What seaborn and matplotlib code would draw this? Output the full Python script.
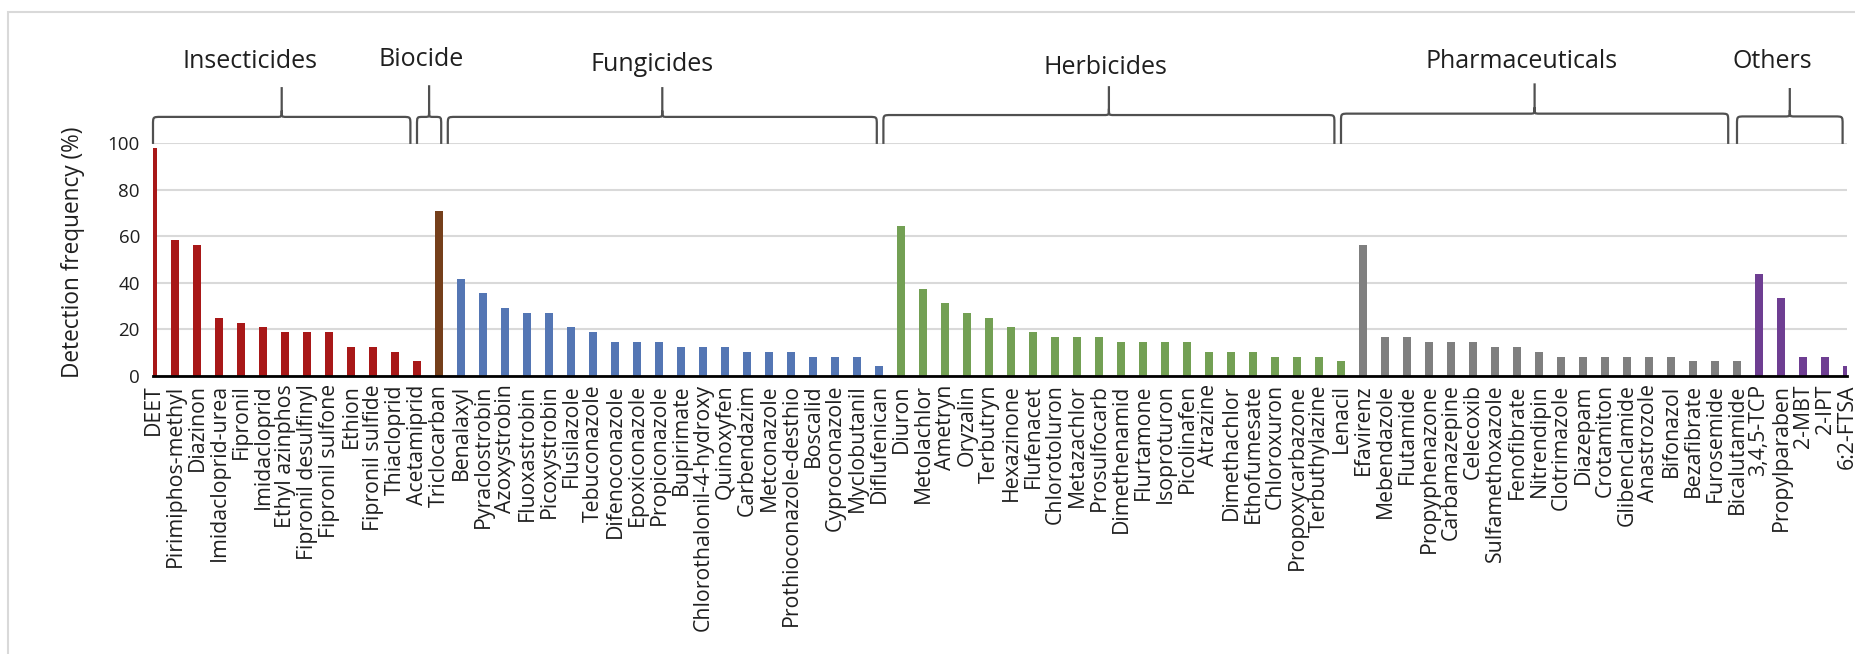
import matplotlib
matplotlib.use("Agg")
import matplotlib.pyplot as plt
from matplotlib.path import Path
from matplotlib.patches import PathPatch, Rectangle
import pandas as pd
import seaborn as sns

# ---- data -------------------------------------------------------------
insecticides = ["DEET", "Pirimiphos-methyl", "Diazinon", "Imidacloprid-urea", "Fipronil",
                "Imidacloprid", "Ethyl azinphos", "Fipronil desulfinyl", "Fipronil sulfone",
                "Ethion", "Fipronil sulfide", "Thiacloprid", "Acetamiprid"]
insecticides_freq = [97.92, 58.33, 56.25, 25.0, 22.92, 20.83, 18.75, 18.75, 18.75,
                     12.5, 12.5, 10.42, 6.25]

biocide = ["Triclocarban"]
biocide_freq = [70.83]

fungicides = ["Benalaxyl", "Pyraclostrobin", "Azoxystrobin", "Fluoxastrobin", "Picoxystrobin",
              "Flusilazole", "Tebuconazole", "Difenoconazole", "Epoxiconazole", "Propiconazole",
              "Bupirimate", "Chlorothalonil-4-hydroxy", "Quinoxyfen", "Carbendazim",
              "Metconazole", "Prothioconazole-desthio", "Boscalid", "Cyproconazole",
              "Myclobutanil", "Diflufenican"]
fungicides_freq = [41.67, 35.42, 29.17, 27.08, 27.08, 20.83, 18.75, 14.58, 14.58, 14.58,
                   12.5, 12.5, 12.5, 10.42, 10.42, 10.42, 8.33, 8.33, 8.33, 4.17]

herbicides = ["Diuron", "Metolachlor", "Ametryn", "Oryzalin", "Terbutryn", "Hexazinone",
              "Flufenacet", "Chlorotoluron", "Metazachlor", "Prosulfocarb", "Dimethenamid",
              "Flurtamone", "Isoproturon", "Picolinafen", "Atrazine", "Dimethachlor",
              "Ethofumesate", "Chloroxuron", "Propoxycarbazone", "Terbuthylazine", "Lenacil"]
herbicides_freq = [64.58, 37.5, 31.25, 27.08, 25.0, 20.83, 18.75, 16.67, 16.67, 16.67,
                   14.58, 14.58, 14.58, 14.58, 10.42, 10.42, 10.42, 8.33, 8.33, 8.33, 6.25]

pharmaceuticals = ["Efavirenz", "Mebendazole", "Flutamide", "Propyphenazone", "Carbamazepine",
                   "Celecoxib", "Sulfamethoxazole", "Fenofibrate", "Nitrendipin", "Clotrimazole",
                   "Diazepam", "Crotamiton", "Glibenclamide", "Anastrozole", "Bifonazol",
                   "Bezafibrate", "Furosemide", "Bicalutamide"]
pharmaceuticals_freq = [56.25, 16.67, 16.67, 14.58, 14.58, 14.58, 12.5, 12.5, 10.42, 8.33,
                        8.33, 8.33, 8.33, 8.33, 8.33, 6.25, 6.25, 6.25]

others = ["3,4,5-TCP", "Propylparaben", "2-MBT", "2-IPT", "6:2-FTSA"]
others_freq = [43.75, 33.33, 8.33, 8.33, 4.17]

group_names = ["Insecticides", "Biocide", "Fungicides", "Herbicides", "Pharmaceuticals", "Others"]
group_members = [insecticides, biocide, fungicides, herbicides, pharmaceuticals, others]
group_values = [insecticides_freq, biocide_freq, fungicides_freq, herbicides_freq,
                pharmaceuticals_freq, others_freq]

# ---- styling ----------------------------------------------------------
group_colors = {"Insecticides": "#C00000", "Biocide": "#843C0C", "Fungicides": "#4472C4",
                "Herbicides": "#70AD47", "Pharmaceuticals": "#7F7F7F", "Others": "#7030A0"}

# bracket spans (x in bar-index units) and label anchor for each group
bracket_layout = {
    "Insecticides":    dict(x0=0.0,  x1=11.7, label_x=4.4,  label_y=135.0, yh=111.2, yt=124.0),
    "Biocide":         dict(x0=12.0, x1=13.1, label_x=12.2, label_y=135.8, yh=111.2, yt=124.8),
    "Fungicides":      dict(x0=13.4, x1=32.9, label_x=22.7, label_y=133.6, yh=111.2, yt=124.0),
    "Herbicides":      dict(x0=33.2, x1=53.7, label_x=43.3, label_y=132.5, yh=112.0, yt=124.4),
    "Pharmaceuticals": dict(x0=54.0, x1=71.6, label_x=62.2, label_y=135.0, yh=112.6, yt=125.6),
    "Others":          dict(x0=72.0, x1=76.8, label_x=73.6, label_y=135.0, yh=111.4, yt=123.6),
}

sns.set_style("white")
plt.rcParams["font.family"] = ["Open Sans", "DejaVu Sans"]
text_color = "#1f1f1f"

rows = []
for g, names, vals in zip(group_names, group_members, group_values):
    for n, v in zip(names, vals):
        rows.append({"compound": n, "freq": v, "group": g})
df = pd.DataFrame(rows)
order = list(df["compound"])

W, H = 1856, 654
fig = plt.figure(figsize=(W / 100, H / 100), dpi=100)
ax = fig.add_axes([153 / W, 1 - 376 / H, (1847 - 153) / W, (376 - 143) / H])

sns.barplot(data=df, x="compound", y="freq", hue="group", order=order,
            hue_order=group_names, palette=group_colors, dodge=False, width=0.33,
            linewidth=0, legend=False, ax=ax)

ax.set_xlim(0, len(order) - 1)
ax.set_ylim(0, 100)
ax.set_yticks(range(0, 101, 20))
ax.yaxis.grid(True, color="#D9D9D9", linewidth=1.5)
ax.xaxis.grid(False)
ax.set_axisbelow(True)
for side in ("left", "right", "top"):
    ax.spines[side].set_visible(False)
ax.spines["bottom"].set_color("black")
ax.spines["bottom"].set_linewidth(2)
ax.spines["bottom"].set_zorder(5)

ax.tick_params(axis="y", length=0, pad=9.4, labelsize=13.5, labelcolor=text_color)
ax.tick_params(axis="x", length=0, pad=6, labelsize=15.3, labelcolor=text_color)
plt.setp(ax.get_xticklabels(), rotation=90, ha="center", va="top")
ax.set_xlabel("")
ax.set_ylabel("Detection frequency (%)", fontsize=16.3, color=text_color)
ax.yaxis.set_label_coords(-0.040, 0.53)

# curly brackets above each group
yb = 99.6
rx, ry = 0.36, 3.4
for g in group_names:
    b = bracket_layout[g]
    x0, x1 = b["x0"], b["x1"]
    yh, yt = b["yh"], b["yt"]
    xm = (x0 + x1) / 2
    rxe = min(rx, (x1 - x0) / 4)
    rxm = min(0.22, (x1 - x0) / 6)
    verts = [
        (x0, yb), (x0, yh - ry),
        (x0, yh), (x0, yh), (x0 + rxe, yh),
        (xm - rxm, yh),
        (xm, yh), (xm, yh), (xm, yh + ry * 0.8),
        (xm, yt),
        (xm, yh + ry * 0.8),
        (xm, yh), (xm, yh), (xm + rxm, yh),
        (x1 - rxe, yh),
        (x1, yh), (x1, yh), (x1, yh - ry),
        (x1, yb),
    ]
    codes = [Path.MOVETO, Path.LINETO,
             Path.CURVE4, Path.CURVE4, Path.CURVE4,
             Path.LINETO,
             Path.CURVE4, Path.CURVE4, Path.CURVE4,
             Path.LINETO,
             Path.MOVETO,
             Path.CURVE4, Path.CURVE4, Path.CURVE4,
             Path.LINETO,
             Path.CURVE4, Path.CURVE4, Path.CURVE4,
             Path.LINETO]
    patch = PathPatch(Path(verts, codes), facecolor="none", edgecolor="#505050",
                      linewidth=1.6, clip_on=False, zorder=6)
    ax.add_patch(patch)
    ax.text(b["label_x"], b["label_y"], g, ha="center", va="center", fontsize=18,
            color=text_color, clip_on=False)

# light outer frame
fig.patches.append(Rectangle((8 / W, -0.1), 1.2, (H - 12) / H + 0.1,
                             transform=fig.transFigure, fill=False,
                             edgecolor="#D9D9D9", linewidth=1.5))

fig.savefig("out.png", dpi=100)
